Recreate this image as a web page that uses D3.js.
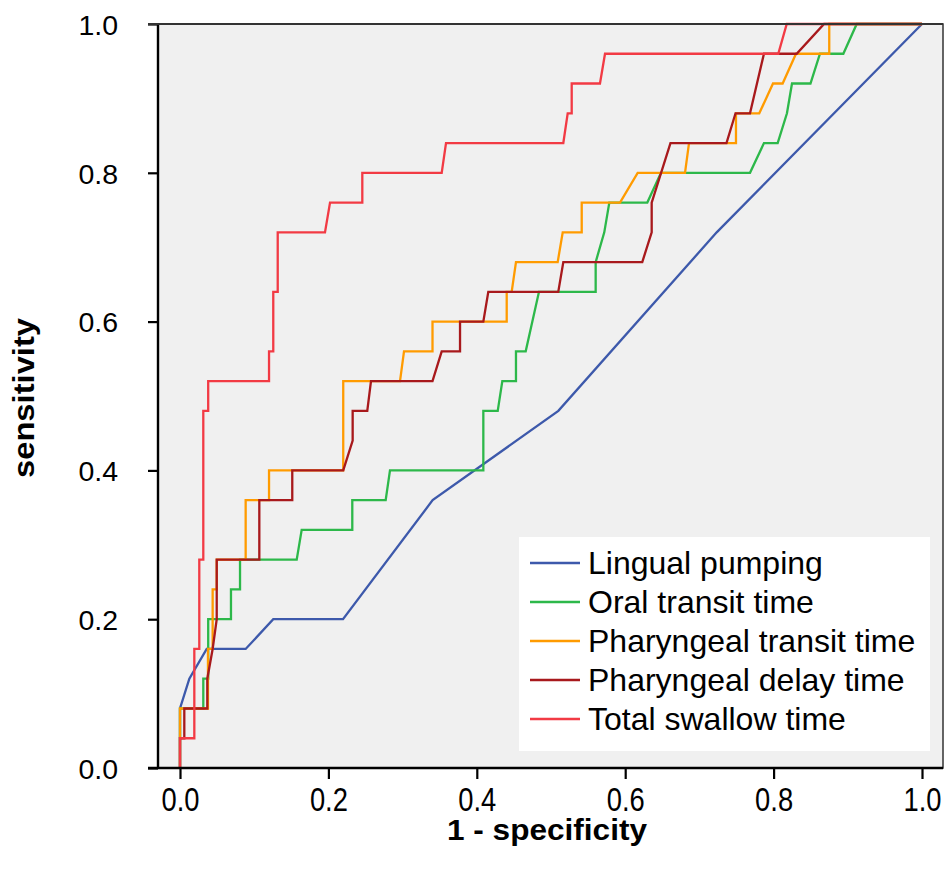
<!DOCTYPE html>
<html>
<head>
  <meta charset="UTF-8">
  <title>ROC curves</title>
  <script src="https://d3js.org/d3.v7.min.js"></script>
  <style>
    body { margin: 0; background: #fff; }
    text { font-family: "Liberation Sans", Arial, Helvetica, sans-serif; }
  </style>
</head>
<body>
<svg width="948" height="873"></svg>
<script>
// ROC points, [1 - specificity, sensitivity]
const lingualPumping = [
  [0, 0], [0, 0.08], [0.0126, 0.12], [0.036, 0.16], [0.0885, 0.16], [0.1257, 0.20],
  [0.2197, 0.20], [0.3405, 0.36], [0.5099, 0.48], [0.7233, 0.72], [1, 1]
];
const oralTransit = [
  [0, 0], [0, 0.08], [0.0314, 0.08], [0.0314, 0.12], [0.038, 0.12], [0.038, 0.20],
  [0.0687, 0.20], [0.0687, 0.24], [0.0809, 0.24], [0.0809, 0.28], [0.1573, 0.28],
  [0.164, 0.32], [0.2322, 0.32], [0.2322, 0.36], [0.2772, 0.36], [0.283, 0.40],
  [0.4088, 0.40], [0.4088, 0.48], [0.4282, 0.48], [0.4344, 0.52], [0.4528, 0.52],
  [0.4528, 0.56], [0.4659, 0.56], [0.4838, 0.64], [0.5602, 0.64], [0.5602, 0.68],
  [0.5718, 0.72], [0.5786, 0.76], [0.6298, 0.76], [0.6482, 0.80], [0.7682, 0.80],
  [0.787, 0.84], [0.8055, 0.84], [0.818, 0.88], [0.8248, 0.92], [0.8497, 0.92],
  [0.8625, 0.96], [0.894, 0.96], [0.912, 1.0], [1, 1]
];
const pharTransit = [
  [0, 0], [0, 0.08], [0.0377, 0.08], [0.0377, 0.16], [0.044, 0.16], [0.044, 0.24],
  [0.0495, 0.24], [0.0495, 0.28], [0.0885, 0.28], [0.0885, 0.36], [0.12, 0.36],
  [0.12, 0.40], [0.22, 0.40], [0.22, 0.52], [0.2965, 0.52], [0.3019, 0.56],
  [0.3403, 0.56], [0.3403, 0.60], [0.4403, 0.60], [0.4403, 0.64], [0.447, 0.64],
  [0.4528, 0.68], [0.509, 0.68], [0.5158, 0.72], [0.5414, 0.72], [0.5414, 0.76],
  [0.593, 0.76], [0.6168, 0.80], [0.6806, 0.80], [0.686, 0.84], [0.7493, 0.84],
  [0.7493, 0.88], [0.7807, 0.88], [0.7992, 0.92], [0.8122, 0.92], [0.8302, 0.96],
  [0.875, 0.96], [0.875, 1.0], [1, 1]
];
const pharDelay = [
  [0, 0], [0, 0.04], [0.0058, 0.04], [0.0058, 0.08], [0.0368, 0.08], [0.0368, 0.12],
  [0.044, 0.16], [0.0495, 0.20], [0.0495, 0.28], [0.1069, 0.28], [0.1069, 0.36],
  [0.1513, 0.36], [0.1513, 0.40], [0.22, 0.40], [0.2327, 0.44], [0.2327, 0.48],
  [0.2524, 0.48], [0.2574, 0.52], [0.3403, 0.52], [0.3527, 0.56], [0.3774, 0.56],
  [0.3774, 0.60], [0.4088, 0.60], [0.4155, 0.64], [0.5098, 0.64], [0.5166, 0.68],
  [0.623, 0.68], [0.6357, 0.72], [0.6357, 0.76], [0.661, 0.84], [0.7365, 0.84],
  [0.7487, 0.88], [0.7682, 0.88], [0.787, 0.96], [0.8311, 0.96], [0.868, 1.0], [1, 1]
];
const totalSwallow = [
  [0, 0], [0, 0.04], [0.0193, 0.04], [0.0193, 0.16], [0.026, 0.16], [0.026, 0.28],
  [0.0314, 0.28], [0.0314, 0.48], [0.038, 0.48], [0.038, 0.52], [0.12, 0.52],
  [0.12, 0.56], [0.1257, 0.56], [0.1257, 0.64], [0.1317, 0.64], [0.1317, 0.72],
  [0.1954, 0.72], [0.2022, 0.76], [0.2457, 0.76], [0.2457, 0.80], [0.3527, 0.80],
  [0.3585, 0.84], [0.5166, 0.84], [0.5225, 0.88], [0.5279, 0.88], [0.5279, 0.92],
  [0.566, 0.92], [0.5728, 0.96], [0.8063, 0.96], [0.8177, 1.0], [1, 1]
];

const seriesNames = ["Lingual pumping", "Oral transit time", "Pharyngeal transit time",
                     "Pharyngeal delay time", "Total swallow time"];
const seriesData = [lingualPumping, oralTransit, pharTransit, pharDelay, totalSwallow];
const seriesColors = ["#3d59ab", "#2db84a", "#ff9b00", "#a8191c", "#f23a44"];
const tickValues = [0, 0.2, 0.4, 0.6, 0.8, 1.0];

const svg = d3.select("svg");

// plot frame
const frame = { left: 158, right: 943, top: 24, bottom: 768 };

const x = d3.scaleLinear().domain([0, 1]).range([180, 922]);
const y = d3.scaleLinear().domain([0, 1]).range([768, 24]);

svg.append("rect")
  .attr("x", frame.left).attr("y", frame.top)
  .attr("width", frame.right - frame.left).attr("height", frame.bottom - frame.top)
  .attr("fill", "#f0f0f0")
  .attr("stroke", "#333").attr("stroke-width", 1.5);

// draw the curves
const line = d3.line().x(d => x(d[0])).y(d => y(d[1]));

seriesData.forEach((data, i) => {
  svg.append("path")
    .datum(data)
    .attr("fill", "none")
    .attr("stroke", seriesColors[i])
    .attr("stroke-width", 2.3)
    .attr("stroke-linejoin", "miter")
    .attr("d", line);
});

// axes
const xAxis = svg.append("g")
  .attr("transform", `translate(0, ${frame.bottom})`)
  .call(d3.axisBottom(x).tickValues(tickValues).tickFormat(d3.format(".1f")).tickSize(11).tickSizeOuter(0));
xAxis.select(".domain").remove();
xAxis.selectAll("line").attr("stroke", "#000").attr("stroke-width", 2.2);
xAxis.selectAll("text")
  .attr("y", 0).attr("dy", 0)
  .attr("transform", "translate(0, 43)")
  .attr("font-size", 33)
  .attr("textLength", 38)
  .attr("lengthAdjust", "spacingAndGlyphs")
  .attr("fill", "#000");

const yAxis = svg.append("g")
  .attr("transform", `translate(${frame.left}, 0)`)
  .call(d3.axisLeft(y).tickValues(tickValues).tickFormat(d3.format(".1f")).tickSize(10).tickSizeOuter(0));
yAxis.select(".domain").remove();
yAxis.selectAll("line").attr("stroke", "#000").attr("stroke-width", 2.2);
yAxis.selectAll("text")
  .attr("x", -40).attr("dy", "0.36em")
  .attr("font-size", 28.5)
  .attr("fill", "#000");

// axis lines on the left and bottom
svg.append("line")
  .attr("x1", frame.left).attr("x2", frame.left)
  .attr("y1", frame.top).attr("y2", frame.bottom)
  .attr("stroke", "#000").attr("stroke-width", 2.4);
svg.append("line")
  .attr("x1", frame.left - 10).attr("x2", frame.right)
  .attr("y1", frame.bottom).attr("y2", frame.bottom)
  .attr("stroke", "#000").attr("stroke-width", 2.4);
svg.append("line")
  .attr("x1", frame.left - 10).attr("x2", frame.right)
  .attr("y1", frame.top).attr("y2", frame.top)
  .attr("stroke", "#333").attr("stroke-width", 2);

// axis titles
svg.append("text")
  .attr("x", 547).attr("y", 840)
  .attr("text-anchor", "middle")
  .attr("font-size", 30).attr("font-weight", "bold")
  .attr("textLength", 200).attr("lengthAdjust", "spacingAndGlyphs")
  .text("1 - specificity");

svg.append("text")
  .attr("transform", "translate(34, 398) rotate(-90)")
  .attr("text-anchor", "middle")
  .attr("font-size", 30).attr("font-weight", "bold")
  .attr("textLength", 160).attr("lengthAdjust", "spacingAndGlyphs")
  .text("sensitivity");

// legend
const legend = svg.append("g");
legend.append("rect")
  .attr("x", 519).attr("y", 537)
  .attr("width", 411).attr("height", 214)
  .attr("fill", "#fff");

const rowY = d3.scalePoint().domain(seriesNames).range([563, 719]);
seriesNames.forEach((name, i) => {
  legend.append("line")
    .attr("x1", 530).attr("x2", 580)
    .attr("y1", rowY(name)).attr("y2", rowY(name))
    .attr("stroke", seriesColors[i]).attr("stroke-width", 2.3);
  legend.append("text")
    .attr("x", 588).attr("y", rowY(name) + 11)
    .attr("font-size", 32)
    .attr("fill", "#000")
    .text(name);
});
</script>
</body>
</html>
